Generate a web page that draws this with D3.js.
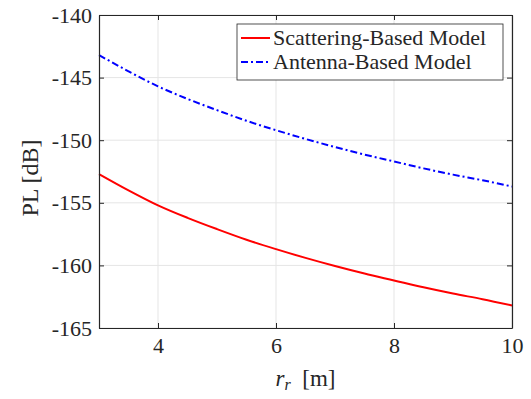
<!DOCTYPE html>
<html>
<head>
<meta charset="utf-8">
<script src="https://cdn.jsdelivr.net/npm/d3@7"></script>
<style>
  body { margin: 0; background: #fff; }
  svg text { font-family: "Liberation Serif", "DejaVu Serif", serif; fill: #262626; }
</style>
</head>
<body>
<svg id="chart" width="531" height="399"></svg>
<script>
// distances r_r [m]
var distances = [3, 3.5, 4, 4.5, 5, 5.5, 6, 6.5, 7, 7.5, 8, 8.5, 9, 9.5, 10];
// path loss values [dB]
var scatteringPL = [-152.7, -154.0, -155.2, -156.2, -157.1, -157.95, -158.7, -159.4, -160.05, -160.65, -161.2, -161.75, -162.25, -162.7, -163.2];
var antennaPL = [-143.2, -144.5, -145.7, -146.7, -147.6, -148.45, -149.2, -149.9, -150.55, -151.15, -151.7, -152.25, -152.75, -153.2, -153.7];
var xTicks = [4, 6, 8, 10];
var yTicks = [-165, -160, -155, -150, -145, -140];
var seriesNames = ["Scattering-Based Model", "Antenna-Based Model"];

var margin = {left: 99, right: 19, top: 15, bottom: 71};
var width = 531, height = 399;

var svg = d3.select("#chart");

var x = d3.scaleLinear().domain([3, 10]).range([margin.left, width - margin.right]);
var y = d3.scaleLinear().domain([-165, -140]).range([height - margin.bottom, margin.top]);

// grid
svg.append("g").selectAll("line").data(xTicks).enter().append("line")
  .attr("x1", d => x(d)).attr("x2", d => x(d))
  .attr("y1", y(-165)).attr("y2", y(-140))
  .attr("stroke", "#e5e5e5").attr("stroke-width", 1);
svg.append("g").selectAll("line").data(yTicks).enter().append("line")
  .attr("x1", x(3)).attr("x2", x(10))
  .attr("y1", d => y(d)).attr("y2", d => y(d))
  .attr("stroke", "#e5e5e5").attr("stroke-width", 1);

// lines
var line = d3.line().curve(d3.curveMonotoneX)
  .x((d, i) => x(distances[i])).y(d => y(d));

svg.append("path").datum(scatteringPL)
  .attr("d", line).attr("fill", "none")
  .attr("stroke", "#ff0000").attr("stroke-width", 2);

svg.append("path").datum(antennaPL)
  .attr("d", line).attr("fill", "none")
  .attr("stroke", "#0000ff").attr("stroke-width", 2)
  .attr("stroke-dasharray", "7,3,2,3");

// axes (ticks inside, box)
var xAxis = d3.axisBottom(x).tickValues(xTicks).tickSizeInner(-5).tickSizeOuter(0).tickPadding(9)
  .tickFormat(d3.format("d"));
var yAxis = d3.axisLeft(y).tickValues(yTicks).tickSizeInner(-5).tickSizeOuter(0).tickPadding(7)
  .tickFormat(d => "-" + Math.abs(d));

var gx = svg.append("g").attr("transform", "translate(0," + y(-165) + ")").call(xAxis);
var gy = svg.append("g").attr("transform", "translate(" + x(3) + ",0)").call(yAxis);
var gxTop = svg.append("g").attr("transform", "translate(0," + y(-140) + ")")
  .call(d3.axisTop(x).tickValues(xTicks).tickSizeInner(-5).tickSizeOuter(0).tickFormat(""));
var gyRight = svg.append("g").attr("transform", "translate(" + x(10) + ",0)")
  .call(d3.axisRight(y).tickValues(yTicks).tickSizeInner(-5).tickSizeOuter(0).tickFormat(""));

[gx, gy, gxTop, gyRight].forEach(function(g) {
  g.attr("font-family", null).attr("font-size", null);
  g.select(".domain").attr("stroke", "#262626").attr("stroke-width", 1.2);
  g.selectAll(".tick line").attr("stroke", "#262626");
  g.selectAll(".tick text")
    .style("font-family", "'Liberation Serif', 'DejaVu Serif', serif")
    .style("font-size", "22px").style("fill", "#262626");
});

// axis labels
svg.append("text")
  .attr("x", (x(3) + x(10)) / 2).attr("y", 386)
  .attr("text-anchor", "middle").attr("font-size", 23)
  .html('<tspan font-style="italic">r</tspan><tspan font-style="italic" font-size="16" dy="4">r</tspan><tspan dy="-4" xml:space="preserve">  [m]</tspan>');

svg.append("text")
  .attr("transform", "translate(38,178) rotate(-90)")
  .attr("text-anchor", "middle").attr("font-size", 24)
  .text("PL [dB]");

// legend
var legend = svg.append("g").attr("transform", "translate(237,24)");
legend.append("rect").attr("width", 266).attr("height", 56)
  .attr("fill", "#fff").attr("stroke", "#262626").attr("stroke-width", 0.8);
var colors = ["#ff0000", "#0000ff"];
var dashes = [null, "7,3,2,3"];
seriesNames.forEach(function(name, i) {
  var ly = 14 + i * 24;
  legend.append("line").attr("x1", 4).attr("x2", 33).attr("y1", ly).attr("y2", ly)
    .attr("stroke", colors[i]).attr("stroke-width", 2)
    .attr("stroke-dasharray", dashes[i]);
  legend.append("text").attr("x", 36).attr("y", ly + 7)
    .attr("font-size", 22).text(name);
});
</script>
</body>
</html>
